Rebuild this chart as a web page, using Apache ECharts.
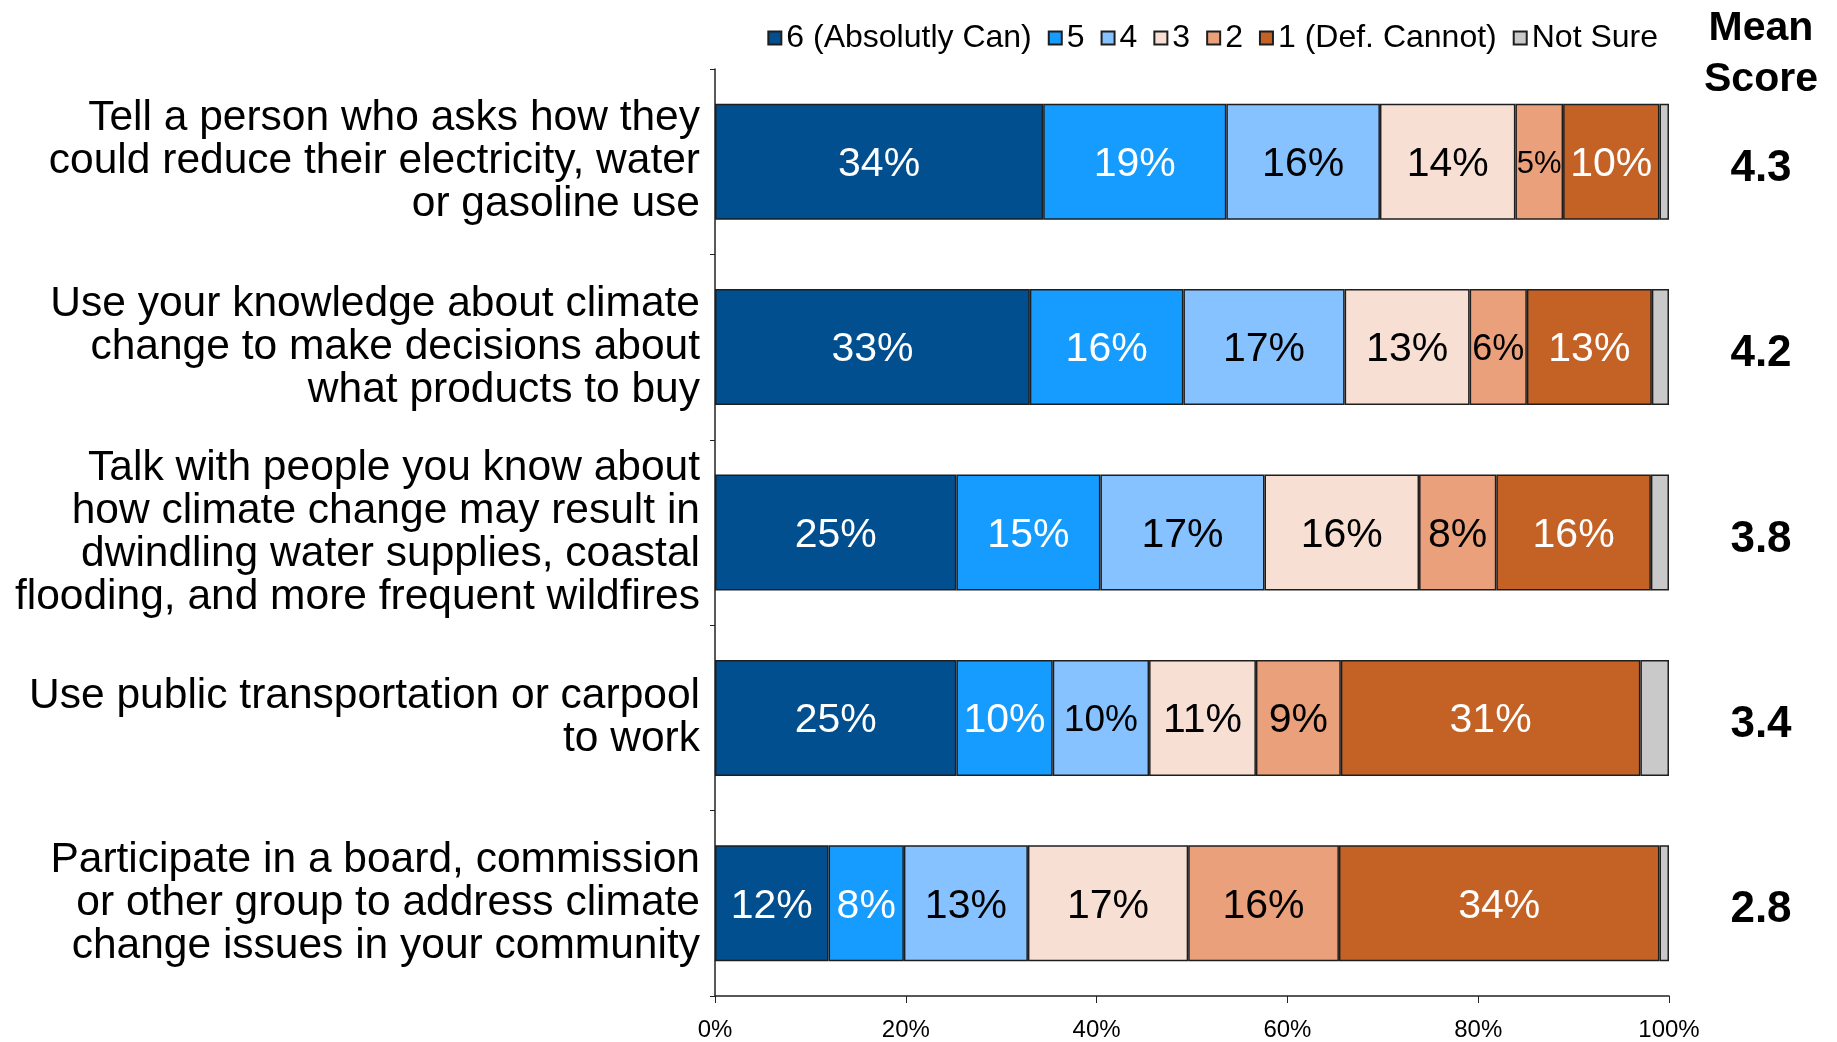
<!DOCTYPE html>
<html>
<head>
<meta charset="utf-8">
<script src="https://cdn.jsdelivr.net/npm/echarts@6/dist/echarts.min.js"></script>
<style>
  html, body { margin: 0; padding: 0; background: #fff; }
  #graph { width: 1837px; height: 1042px; }
</style>
</head>
<body>
<div id="graph"></div>
<script>
// 问题（类别）
var questions = [
  'Tell a person who asks how they\ncould reduce their electricity, water\nor gasoline use',
  'Use your knowledge about climate\nchange to make decisions about\nwhat products to buy',
  'Talk with people you know about\nhow climate change may result in\ndwindling water supplies, coastal\nflooding, and more frequent wildfires',
  'Use public transportation or carpool\nto work',
  'Participate in a board, commission\nor other group to address climate\nchange issues in your community'
];
var meanScores = ['4.3', '4.2', '3.8', '3.4', '2.8'];

// 各等级百分比
var level6 = [34.4, 33.0, 25.3, 25.3, 11.9];
var level5 = [19.2, 16.1, 15.1, 10.1, 7.9];
var level4 = [16.1, 16.9, 17.2, 10.1, 13.0];
var level3 = [14.2, 13.1, 16.2, 11.2, 16.8];
var level2 = [5.0, 6.0, 8.1, 8.9, 15.8];
var level1 = [10.1, 13.1, 16.2, 31.4, 33.6];
var notSure = [1.0, 1.8, 1.9, 3.0, 1.0];

var seriesNames = ['6 (Absolutly Can)', '5', '4', '3', '2', '1 (Def. Cannot)', 'Not Sure'];
var seriesData = [level6, level5, level4, level3, level2, level1, notSure];
var colors = ['#014F8F', '#169BFE', '#86C2FF', '#F8DFD4', '#E9A07B', '#C46226', '#C9C9C9'];
var labelColors = ['#fff', '#fff', '#000', '#000', '#000', '#fff', null];
// 窄格子里的标签字号小一点
var smallLabels = { '0-4': 31, '1-4': 36, '3-2': 37 };

var fontFamily = '"Liberation Sans", Arial, sans-serif';
var myChart = echarts.init(document.getElementById('graph'));

var series = [];
for (var s = 0; s < seriesNames.length; s++) {
  var data = [];
  for (var i = 0; i < seriesData[s].length; i++) {
    var item = { value: seriesData[s][i] };
    var key = i + '-' + s;
    if (smallLabels[key]) {
      item.label = { fontSize: smallLabels[key] };
    }
    data.push(item);
  }
  series.push({
    name: seriesNames[s],
    type: 'bar',
    stack: 'total',
    barWidth: 116,
    data: data,
    itemStyle: { color: colors[s], borderColor: '#1e1e1e', borderWidth: 1.5 },
    label: {
      show: labelColors[s] !== null,
      position: 'inside',
      offset: [0, 3],
      color: labelColors[s] || '#000',
      fontFamily: fontFamily,
      fontSize: 41,
      formatter: function (p) { return Math.round(p.value) + '%'; }
    },
    emphasis: { disabled: true }
  });
}

option = {
  animation: false,
  textStyle: { fontFamily: fontFamily },
  legend: {
    data: seriesNames,
    right: 174,
    top: 17,
    icon: 'rect',
    itemWidth: 13,
    itemHeight: 13,
    itemGap: 16,
    textStyle: { fontSize: 32, color: '#000', fontFamily: fontFamily }
  },
  graphic: [{
    type: 'text',
    style: {
      x: 1761,
      y: 3,
      text: 'Mean\nScore',
      textAlign: 'center',
      fontFamily: fontFamily,
      fontWeight: 'bold',
      fontSize: 41,
      lineHeight: 51,
      fill: '#000'
    }
  }],
  grid: { left: 715, right: 168, top: 69, bottom: 46, containLabel: false },
  xAxis: {
    type: 'value',
    min: 0,
    max: 100,
    interval: 20,
    splitLine: { show: false },
    axisLine: { show: true, lineStyle: { color: '#222', width: 1.5 } },
    axisTick: { show: true, length: 7, lineStyle: { color: '#222' } },
    axisLabel: { formatter: '{value}%', fontSize: 24, color: '#000', margin: 22, fontFamily: fontFamily }
  },
  yAxis: [{
    type: 'category',
    data: questions,
    inverse: true,
    axisLine: { show: true, lineStyle: { color: '#222', width: 1.5 } },
    axisTick: { show: true, length: 5, lineStyle: { color: '#222' } },
    axisLabel: { fontSize: 42.5, lineHeight: 43, color: '#000', margin: 15, align: 'right', fontFamily: fontFamily }
  }, {
    type: 'category',
    data: meanScores,
    inverse: true,
    position: 'right',
    axisLine: { show: false },
    axisTick: { show: false },
    axisLabel: {
      margin: 92,
      align: 'center',
      formatter: '{m|{value}}',
      rich: {
        m: { fontSize: 44, fontWeight: 'bold', color: '#000', padding: [14, 0, 0, 0], fontFamily: fontFamily }
      }
    }
  }],
  series: series
};

myChart.setOption(option);
</script>
</body>
</html>
